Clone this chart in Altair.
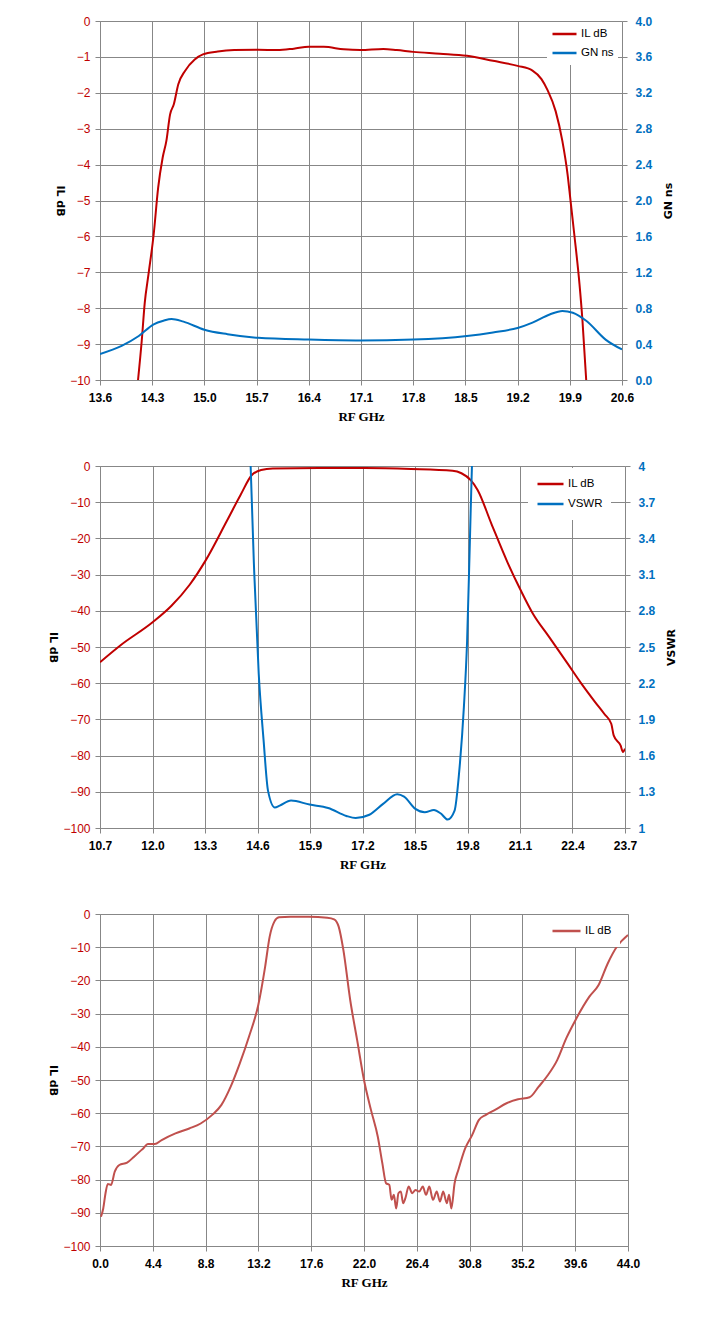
import altair as alt
import pandas as pd

# ---------------- data ----------------
# Panel 1: narrow-span IL (dB) and group delay GN (ns)
p1_il_x = [14.11, 14.16, 14.20, 14.25, 14.32, 14.38, 14.44, 14.49, 14.54, 14.59,
           14.65, 14.74, 14.87, 14.98, 15.18, 15.40, 15.72, 15.98, 16.20, 16.40,
           16.60, 16.87, 17.09, 17.40, 17.58, 17.80, 18.16, 18.52, 18.87, 19.20,
           19.40, 19.52, 19.60, 19.71, 19.80, 19.87, 19.91, 19.96, 20.03, 20.07, 20.12]
p1_il_y = [-10.0, -8.9, -7.85, -7.06, -5.94, -4.64, -3.81, -3.34, -2.60, -2.32,
           -1.76, -1.39, -1.07, -0.93, -0.85, -0.81, -0.80, -0.81, -0.77, -0.72,
           -0.72, -0.79, -0.81, -0.78, -0.81, -0.86, -0.91, -0.97, -1.11, -1.25,
           -1.38, -1.62, -1.92, -2.51, -3.34, -4.27, -5.01, -5.94, -7.33, -8.35, -10.0]
p1_gn_x = [13.60, 13.89, 14.12, 14.32, 14.45, 14.56, 14.72, 15.00, 15.31, 15.72,
           16.40, 17.09, 17.80, 18.52, 18.87, 19.20, 19.40, 19.63, 19.80, 19.94,
           20.12, 20.38, 20.60]
p1_gn_y = [0.29, 0.38, 0.49, 0.62, 0.66, 0.68, 0.65, 0.56, 0.51, 0.47,
           0.45, 0.44, 0.45, 0.49, 0.53, 0.58, 0.64, 0.73, 0.77, 0.75,
           0.66, 0.45, 0.34]
p1_xticks = [13.6, 14.3, 15.0, 15.7, 16.4, 17.1, 17.8, 18.5, 19.2, 19.9, 20.6]
p1_lticks = [0, -1, -2, -3, -4, -5, -6, -7, -8, -9, -10]
p1_rticks = [0.0, 0.4, 0.8, 1.2, 1.6, 2.0, 2.4, 2.8, 3.2, 3.6, 4.0]

# Panel 2: IL (dB) and VSWR
p2_il_x = [10.7, 11.21, 12.01, 12.47, 12.92, 13.32, 13.83, 14.18, 14.46, 14.69,
           14.98, 16.12, 17.26, 18.40, 19.43, 19.65, 19.88, 20.05, 20.39, 20.79,
           21.13, 21.42, 21.82, 22.28, 22.62, 22.96, 23.19, 23.36, 23.42, 23.59,
           23.65, 23.70]
p2_il_y = [-54.2, -49.5, -43.1, -38.6, -32.8, -26.0, -15.4, -8.0, -2.5, -1.1,
           -0.7, -0.55, -0.55, -0.8, -1.3, -2.0, -3.9, -6.6, -15.9, -26.6,
           -34.6, -40.8, -47.2, -54.6, -60.1, -65.2, -68.5, -71.2, -74.4, -77.2,
           -79.0, -78.1]
p2_vs_x = [14.40, 14.43, 14.52, 14.63, 14.75, 14.86, 15.03, 15.15, 15.43, 15.89,
           16.35, 16.80, 17.03, 17.37, 17.71, 18.06, 18.23, 18.51, 18.74, 18.97,
           19.14, 19.31, 19.48, 19.59, 19.71, 19.79, 19.86, 19.91, 19.95]
p2_vs_y = [4.4, 4.0, 3.11, 2.28, 1.73, 1.31, 1.17, 1.185, 1.227, 1.194,
           1.166, 1.10, 1.083, 1.11, 1.20, 1.28, 1.26, 1.158, 1.13, 1.15,
           1.12, 1.07, 1.144, 1.45, 2.0, 2.55, 3.39, 4.0, 4.3]
p2_xticks = [10.7, 12.0, 13.3, 14.6, 15.9, 17.2, 18.5, 19.8, 21.1, 22.4, 23.7]
p2_lticks = [0, -10, -20, -30, -40, -50, -60, -70, -80, -90, -100]
p2_rticks = [1.0, 1.3, 1.6, 1.9, 2.2, 2.5, 2.8, 3.1, 3.4, 3.7, 4.0]

# Panel 3: wideband IL (dB)
p3_il_x = [0.08, 0.27, 0.46, 0.65, 0.92, 1.23, 1.61, 2.26, 2.84, 3.6,
           3.99, 4.56, 5.14, 6.29, 7.44, 8.39, 9.35, 10.12, 10.89, 11.65,
           12.42, 13.19, 13.76, 14.14, 14.53, 14.91, 15.87, 17.40, 18.94, 19.51,
           19.89, 20.28, 20.85, 21.43, 22.0, 22.58, 23.15, 23.53, 23.84, 24.11,
           24.3, 24.49, 24.68, 24.87, 25.07, 25.26, 25.45, 25.72, 26.02, 26.29,
           26.6, 26.9, 27.17, 27.44, 27.75, 28.06, 28.33, 28.6, 28.9, 29.09,
           29.28, 29.55, 29.86, 30.43, 31.01, 31.58, 32.16, 32.92, 33.88, 34.84,
           35.8, 36.56, 37.33, 38.1, 38.86, 39.63, 40.78, 41.55, 42.31, 43.08, 44.0]
p3_il_y = [-91.2, -88.7, -84.1, -81.3, -81.6, -77.6, -75.6, -74.9, -73.1, -70.6,
           -69.3, -69.3, -68.1, -66.1, -64.6, -63.1, -60.5, -57.5, -52.0, -45.0,
           -36.9, -27.4, -15.9, -6.8, -2.3, -1.0, -0.8, -0.8, -1.1, -1.6,
           -3.8, -10.8, -25.9, -38.0, -50.0, -59.0, -67.1, -75.1, -81.1, -81.6,
           -86.1, -84.6, -88.7, -84.1, -83.6, -87.1, -85.6, -82.1, -84.1, -83.1,
           -83.6, -82.1, -84.6, -82.1, -86.1, -83.6, -86.6, -83.6, -87.1, -84.6,
           -88.7, -81.1, -77.1, -70.6, -66.6, -62.0, -60.5, -59.0, -57.0, -55.8,
           -55.2, -52.0, -48.5, -44.0, -37.4, -31.9, -24.9, -21.4, -14.9, -9.8, -6.3]
p3_xticks = [0.0, 4.4, 8.8, 13.2, 17.6, 22.0, 26.4, 30.8, 35.2, 39.6, 44.0]
p3_lticks = [0, -10, -20, -30, -40, -50, -60, -70, -80, -90, -100]

# ---------------- styling ----------------
RED = "#C00000"
BLUE = "#0070C0"
RED3 = "#C0504D"
GRID = "#878787"
FONT = "Liberation Sans"


def df(x, y, name):
    return pd.DataFrame({"f": x, "v": y, "series": name})


def x_axis(values):
    return alt.Axis(values=values, format=".1f", title="RF GHz", grid=True,
                    gridColor=GRID, gridWidth=1, domainColor=GRID, tickColor=GRID,
                    tickSize=5, labelFont=FONT, labelFontSize=12, labelFontWeight="bold",
                    labelColor="black", labelPadding=7, labelFlush=False, labelOverlap=False,
                    titleFont="Liberation Serif", titleFontSize=13, titleFontWeight="bold",
                    titleColor="black", titlePadding=7)


def left_axis(values, fmt="d"):
    return alt.Axis(values=values, format=fmt, title="IL dB", orient="left", grid=True,
                    gridColor=GRID, gridWidth=1, domainColor=GRID, tickColor=GRID,
                    tickSize=5, labelFont=FONT, labelFontSize=12, labelColor=RED,
                    labelPadding=5, labelFlush=False, labelOverlap=False,
                    titleFont="DejaVu Sans", titleFontSize=11, titleFontWeight="bold",
                    titleColor="black", titleAngle=90, titleBaseline="top", titlePadding=4)


def right_axis(values, title, fmt):
    return alt.Axis(values=values, format=fmt, title=title, orient="right", grid=False,
                    domain=False, tickColor=GRID, tickSize=5, labelFont=FONT,
                    labelFontSize=12, labelFontWeight="bold", labelColor=BLUE,
                    labelPadding=8, labelFlush=False, labelOverlap=False,
                    titleFont="DejaVu Sans", titleFontSize=11, titleFontWeight="bold",
                    titleColor="black", titleAngle=270, titleBaseline="top", titlePadding=11)


def legend(x, y, size, pad, rowpad):
    return alt.Legend(title=None, orient="none", legendX=x, legendY=y, fillColor="white",
                      padding=pad, symbolType="stroke", symbolSize=size, symbolStrokeWidth=2.5,
                      labelFont=FONT, labelFontSize=11.5, labelColor="black", labelOffset=3,
                      clipHeight=16, rowPadding=rowpad)


# ---------------- panel 1 ----------------
c1 = alt.Color("series:N", scale=alt.Scale(domain=["IL dB", "GN ns"], range=[RED, BLUE]),
               legend=legend(447, 1, 576, 4, 3))
p1_il = alt.Chart(df(p1_il_x, p1_il_y, "IL dB")).mark_line(
    strokeWidth=2, interpolate="monotone", clip=True).encode(
    x=alt.X("f:Q", scale=alt.Scale(domain=[13.6, 20.6], nice=False, zero=False), axis=x_axis(p1_xticks)),
    y=alt.Y("v:Q", scale=alt.Scale(domain=[-10, 0], nice=False, zero=False), axis=left_axis(p1_lticks)),
    color=c1)
p1_gn = alt.Chart(df(p1_gn_x, p1_gn_y, "GN ns")).mark_line(
    strokeWidth=2, interpolate="monotone", clip=True).encode(
    x=alt.X("f:Q", scale=alt.Scale(domain=[13.6, 20.6], nice=False, zero=False)),
    y=alt.Y("v:Q", scale=alt.Scale(domain=[0, 4], nice=False, zero=False),
            axis=right_axis(p1_rticks, "GN ns", ".1f")),
    color=c1)
panel1 = alt.layer(p1_il, p1_gn).resolve_scale(y="independent").properties(width=522, height=359)

# ---------------- panel 2 ----------------
c2 = alt.Color("series:N", scale=alt.Scale(domain=["IL dB", "VSWR"], range=[RED, BLUE]),
               legend=legend(428, 2, 676, 8, 4))
p2_il = alt.Chart(df(p2_il_x, p2_il_y, "IL dB")).mark_line(
    strokeWidth=2, interpolate="monotone", clip=True).encode(
    x=alt.X("f:Q", scale=alt.Scale(domain=[10.7, 23.7], nice=False, zero=False), axis=x_axis(p2_xticks)),
    y=alt.Y("v:Q", scale=alt.Scale(domain=[-100, 0], nice=False, zero=False), axis=left_axis(p2_lticks)),
    color=c2)
p2_vs = alt.Chart(df(p2_vs_x, p2_vs_y, "VSWR")).mark_line(
    strokeWidth=2, interpolate="monotone", clip=True).encode(
    x=alt.X("f:Q", scale=alt.Scale(domain=[10.7, 23.7], nice=False, zero=False)),
    y=alt.Y("v:Q", scale=alt.Scale(domain=[1, 4], nice=False, zero=False),
            axis=right_axis(p2_rticks, "VSWR", "~g")),
    color=c2)
panel2 = alt.layer(p2_il, p2_vs).resolve_scale(y="independent").properties(width=525, height=362)

# ---------------- panel 3 ----------------
c3 = alt.Color("series:N", scale=alt.Scale(domain=["IL dB"], range=[RED3]),
               legend=legend(443, 1, 784, 8, 3))
panel3 = alt.Chart(df(p3_il_x, p3_il_y, "IL dB")).mark_line(
    strokeWidth=2, interpolate="monotone", clip=True).encode(
    x=alt.X("f:Q", scale=alt.Scale(domain=[0, 44], nice=False, zero=False), axis=x_axis(p3_xticks)),
    y=alt.Y("v:Q", scale=alt.Scale(domain=[-100, 0], nice=False, zero=False), axis=left_axis(p3_lticks)),
    color=c3).properties(width=528, height=332)

chart = alt.concat(panel1, panel2, panel3, columns=1, spacing=35).resolve_scale(
    color="independent").resolve_legend(color="independent").properties(
    padding={"left": 39, "top": 6, "right": 5, "bottom": 5}
).configure_view(stroke=None).configure(background="white")

chart.save("out.html", embed_options={"renderer": "svg", "actions": False})
